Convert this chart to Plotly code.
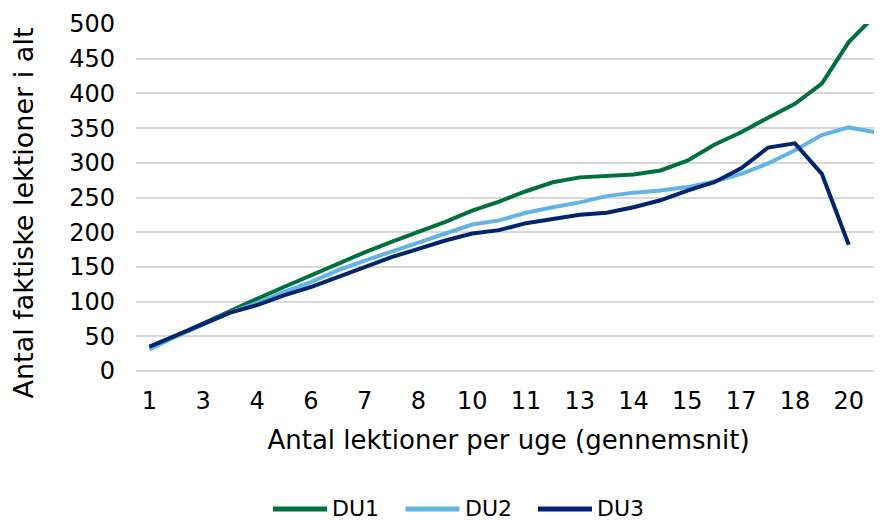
import plotly.graph_objects as go

categories = ["1", "2", "3", "3.5", "4", "5", "6", "6.5", "7", "7.5", "8", "9", "10", "10.5",
              "11", "12", "13", "13.5", "14", "14.5", "15", "16", "17", "17.5", "18", "19", "20", "21"]
tick_labels = ["1", "3", "4", "6", "7", "8", "10", "11", "13", "14", "15", "17", "18", "20"]

du1 = [33, 51, 68, 87, 104, 121, 138, 155, 171, 186, 200, 215, 231, 244,
       259, 272, 279, 281, 283, 289, 303, 326, 344, 365, 385, 414, 474, 513]
du2 = [31, 50, 67, 84, 98, 114, 128, 145, 159, 172, 186, 198, 211, 217,
       228, 236, 243, 252, 257, 260, 265, 273, 284, 299, 318, 340, 351, 344]
du3 = [35, 51, 68, 84, 95, 109, 121, 135, 150, 164, 176, 188, 198, 203,
       213, 219, 225, 228, 236, 246, 260, 272, 292, 322, 328, 284, 182, None]

series = [("DU1", du1, "#00703C"), ("DU2", du2, "#63B4E6"), ("DU3", du3, "#002570")]

x_title = "Antal lektioner per uge (gennemsnit)"
y_title = "Antal faktiske lektioner i alt"

# layout geometry (pixels)
W, H = 874, 515
ML, MR, MT, MB = 128, 1, 16, 152
PW = W - ML - MR
PH = H - MT - MB

fig = go.Figure()
for name, vals, color in series:
    fig.add_trace(go.Scatter(x=categories, y=vals, name=name, mode="lines",
                             line=dict(color=color, width=4), connectgaps=False,
                             showlegend=False))

# custom legend (long line symbols as in the original)
leg_start_px = 273 - 8 - ML
leg_step_px = 132.5
leg_line_px = 54
leg_y = -138 / PH
shapes, annotations = [], []
for i, (name, vals, color) in enumerate(series):
    x0 = (leg_start_px + i * leg_step_px) / PW
    x1 = (leg_start_px + i * leg_step_px + leg_line_px) / PW
    shapes.append(dict(type="line", xref="paper", yref="paper", x0=x0, x1=x1,
                       y0=leg_y, y1=leg_y, line=dict(color=color, width=5)))
    annotations.append(dict(xref="paper", yref="paper", x=x1 + 4 / PW, y=leg_y,
                            xanchor="left", yanchor="middle", text=name, showarrow=False,
                            borderpad=0, font=dict(size=22, color="#000000")))

# y axis title as an annotation (placed like the original, slightly below centre)
annotations.append(dict(xref="paper", yref="paper", x=(23 - 8 - ML) / PW, y=(371 - 213.5) / PH,
                        xanchor="center", yanchor="middle", text=y_title, textangle=-90,
                        showarrow=False, font=dict(size=27, color="#000000")))

font_family = "DejaVu Sans, Verdana, sans-serif"
fig.update_layout(
    width=W, height=H,
    margin=dict(l=ML, r=MR, t=MT, b=MB),
    paper_bgcolor="white", plot_bgcolor="white",
    font=dict(family=font_family, size=24, color="#000000"),
    showlegend=False,
    shapes=shapes, annotations=annotations,
)
fig.update_xaxes(
    type="category", categoryorder="array", categoryarray=categories,
    range=[-0.5, 27.2],
    tickmode="array", tickvals=categories[0::2], ticktext=tick_labels,
    tickfont=dict(size=24),
    showgrid=False, showline=False, zeroline=False, ticks="",
    ticklabelstandoff=13,
    title=dict(text=x_title, font=dict(size=26), standoff=16),
)
fig.update_yaxes(
    range=[0, 500], tickmode="linear", tick0=0, dtick=50,
    tickfont=dict(size=24),
    showgrid=True, gridcolor="#D9D9D9", gridwidth=1.5,
    zeroline=True, zerolinecolor="#D9D9D9", zerolinewidth=1.5,
    showline=False, ticks="", ticklabelstandoff=20,
)

fig.write_html("out.html")
